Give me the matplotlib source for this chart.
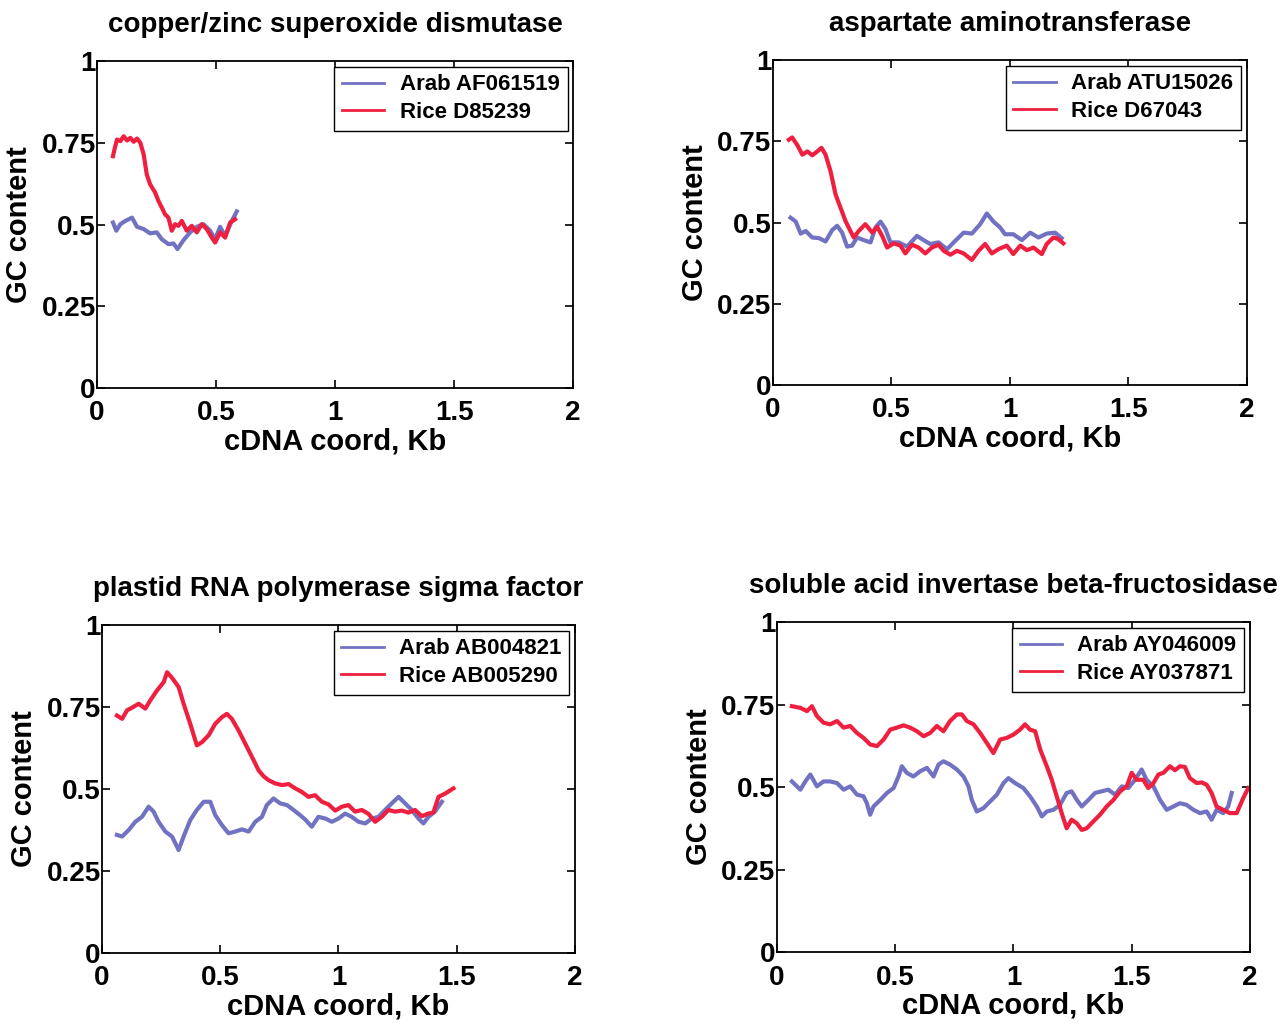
import matplotlib
matplotlib.use('Agg')
import matplotlib.pyplot as plt

plt.rcParams['font.family'] = ['Liberation Sans', 'DejaVu Sans']
plt.rcParams['font.weight'] = 'bold'
plt.rcParams['axes.linewidth'] = 1.3

arab_color = '#7272c2'
rice_color = '#ee1f3f'

# panel 1: copper/zinc superoxide dismutase
p1_arab_x = [0.067, 0.081, 0.098, 0.119, 0.147, 0.168, 0.196, 0.223, 0.251, 0.272, 0.300, 0.321,
             0.338, 0.363, 0.391, 0.419, 0.447, 0.475, 0.496, 0.517, 0.538, 0.566, 0.587]
p1_arab_y = [0.506, 0.481, 0.501, 0.511, 0.521, 0.493, 0.486, 0.473, 0.476, 0.455, 0.440, 0.442,
             0.425, 0.452, 0.476, 0.493, 0.501, 0.481, 0.455, 0.493, 0.465, 0.511, 0.540]
p1_rice_x = [0.067, 0.075, 0.084, 0.098, 0.112, 0.126, 0.140, 0.154, 0.168, 0.182, 0.196, 0.209,
             0.223, 0.244, 0.258, 0.272, 0.286, 0.300, 0.314, 0.328, 0.342, 0.356, 0.377, 0.398,
             0.419, 0.440, 0.461, 0.482, 0.496, 0.517, 0.538, 0.559, 0.580]
p1_rice_y = [0.709, 0.735, 0.760, 0.755, 0.770, 0.757, 0.765, 0.753, 0.763, 0.750, 0.714, 0.653,
             0.623, 0.598, 0.572, 0.552, 0.531, 0.521, 0.481, 0.501, 0.496, 0.511, 0.481, 0.496,
             0.476, 0.501, 0.486, 0.460, 0.445, 0.476, 0.460, 0.506, 0.516]

# panel 2: aspartate aminotransferase
p2_arab_x = [0.074, 0.096, 0.117, 0.138, 0.166, 0.194, 0.222, 0.250, 0.271, 0.292, 0.313, 0.334,
             0.355, 0.383, 0.412, 0.433, 0.454, 0.475, 0.496, 0.531, 0.566, 0.608, 0.636, 0.664,
             0.699, 0.735, 0.770, 0.805, 0.840, 0.875, 0.903, 0.931, 0.959, 0.980, 1.015, 1.051,
             1.086, 1.121, 1.156, 1.191, 1.219]
p2_arab_y = [0.515, 0.503, 0.466, 0.474, 0.454, 0.452, 0.442, 0.477, 0.490, 0.469, 0.426, 0.429,
             0.454, 0.446, 0.439, 0.485, 0.503, 0.480, 0.439, 0.439, 0.426, 0.459, 0.446, 0.434,
             0.439, 0.418, 0.444, 0.469, 0.466, 0.495, 0.528, 0.503, 0.485, 0.464, 0.464, 0.446,
             0.469, 0.454, 0.466, 0.469, 0.452]
p2_rice_x = [0.067, 0.081, 0.103, 0.124, 0.145, 0.166, 0.187, 0.205, 0.222, 0.243, 0.264, 0.285,
             0.306, 0.327, 0.341, 0.362, 0.390, 0.419, 0.440, 0.461, 0.482, 0.510, 0.538, 0.559,
             0.587, 0.615, 0.643, 0.671, 0.699, 0.721, 0.749, 0.777, 0.805, 0.840, 0.868, 0.896,
             0.924, 0.952, 0.987, 1.015, 1.044, 1.072, 1.100, 1.135, 1.156, 1.184, 1.205, 1.226]
p2_rice_y = [0.755, 0.762, 0.738, 0.709, 0.719, 0.707, 0.719, 0.730, 0.709, 0.658, 0.587, 0.546,
             0.505, 0.474, 0.454, 0.474, 0.495, 0.469, 0.487, 0.459, 0.423, 0.436, 0.429, 0.405,
             0.432, 0.423, 0.405, 0.423, 0.432, 0.413, 0.401, 0.413, 0.405, 0.385, 0.413, 0.434,
             0.405, 0.418, 0.429, 0.403, 0.429, 0.415, 0.423, 0.403, 0.434, 0.454, 0.449, 0.436]

# panel 3: plastid RNA polymerase sigma factor
p3_arab_x = [0.063, 0.085, 0.113, 0.141, 0.169, 0.197, 0.218, 0.239, 0.268, 0.296, 0.324, 0.345,
             0.373, 0.401, 0.430, 0.458, 0.479, 0.507, 0.535, 0.563, 0.592, 0.620, 0.648, 0.676,
             0.697, 0.725, 0.754, 0.782, 0.810, 0.838, 0.859, 0.887, 0.915, 0.944, 0.972, 1.000,
             1.028, 1.056, 1.085, 1.113, 1.141, 1.169, 1.197, 1.225, 1.254, 1.282, 1.310, 1.338,
             1.359, 1.380, 1.408, 1.437]
p3_arab_y = [0.360, 0.355, 0.375, 0.400, 0.415, 0.446, 0.431, 0.400, 0.370, 0.355, 0.314, 0.355,
             0.405, 0.436, 0.461, 0.461, 0.420, 0.390, 0.365, 0.370, 0.377, 0.370, 0.400, 0.415,
             0.451, 0.471, 0.456, 0.451, 0.436, 0.420, 0.407, 0.385, 0.415, 0.410, 0.400, 0.410,
             0.425, 0.415, 0.400, 0.395, 0.410, 0.415, 0.436, 0.456, 0.476, 0.456, 0.436, 0.410,
             0.395, 0.415, 0.431, 0.461]
p3_rice_x = [0.063, 0.085, 0.106, 0.127, 0.155, 0.183, 0.204, 0.232, 0.261, 0.275, 0.296, 0.324,
             0.345, 0.373, 0.401, 0.423, 0.451, 0.479, 0.507, 0.528, 0.549, 0.577, 0.606, 0.627,
             0.641, 0.662, 0.683, 0.704, 0.732, 0.761, 0.789, 0.817, 0.845, 0.873, 0.901, 0.930,
             0.958, 0.986, 1.014, 1.042, 1.070, 1.099, 1.127, 1.155, 1.183, 1.211, 1.239, 1.268,
             1.296, 1.324, 1.352, 1.380, 1.401, 1.423, 1.451, 1.486]
p3_rice_y = [0.724, 0.714, 0.740, 0.748, 0.760, 0.745, 0.770, 0.800, 0.826, 0.856, 0.839, 0.811,
             0.760, 0.699, 0.633, 0.643, 0.664, 0.699, 0.719, 0.729, 0.714, 0.679, 0.638, 0.608,
             0.588, 0.557, 0.539, 0.527, 0.517, 0.512, 0.515, 0.502, 0.491, 0.476, 0.481, 0.461,
             0.453, 0.434, 0.446, 0.451, 0.431, 0.436, 0.424, 0.400, 0.415, 0.436, 0.431, 0.434,
             0.428, 0.436, 0.417, 0.425, 0.428, 0.476, 0.486, 0.502]

# panel 4: soluble acid invertase beta-fructosidase
p4_arab_x = [0.063, 0.099, 0.120, 0.141, 0.169, 0.197, 0.225, 0.254, 0.282, 0.310, 0.338, 0.366,
             0.380, 0.394, 0.408, 0.437, 0.465, 0.493, 0.514, 0.528, 0.549, 0.577, 0.606, 0.634,
             0.662, 0.683, 0.704, 0.732, 0.761, 0.789, 0.810, 0.824, 0.845, 0.873, 0.901, 0.930,
             0.958, 0.979, 1.007, 1.042, 1.070, 1.099, 1.120, 1.141, 1.169, 1.197, 1.225, 1.246,
             1.268, 1.289, 1.317, 1.345, 1.373, 1.401, 1.430, 1.458, 1.486, 1.514, 1.542, 1.563,
             1.592, 1.620, 1.648, 1.676, 1.704, 1.732, 1.761, 1.789, 1.817, 1.838, 1.859, 1.887,
             1.908, 1.923]
p4_arab_y = [0.517, 0.492, 0.517, 0.538, 0.502, 0.517, 0.517, 0.512, 0.492, 0.502, 0.477, 0.472,
             0.451, 0.416, 0.441, 0.461, 0.482, 0.497, 0.532, 0.563, 0.543, 0.532, 0.548, 0.558,
             0.532, 0.568, 0.578, 0.568, 0.553, 0.532, 0.502, 0.461, 0.426, 0.436, 0.456, 0.477,
             0.512, 0.527, 0.512, 0.497, 0.472, 0.441, 0.411, 0.426, 0.431, 0.446, 0.482, 0.487,
             0.461, 0.441, 0.461, 0.482, 0.487, 0.492, 0.477, 0.502, 0.497, 0.522, 0.553, 0.522,
             0.502, 0.461, 0.431, 0.441, 0.451, 0.446, 0.431, 0.421, 0.426, 0.401, 0.431, 0.421,
             0.441, 0.482]
p4_rice_x = [0.063, 0.099, 0.127, 0.148, 0.169, 0.197, 0.225, 0.254, 0.282, 0.310, 0.338, 0.366,
             0.394, 0.423, 0.451, 0.479, 0.507, 0.535, 0.563, 0.592, 0.620, 0.648, 0.676, 0.704,
             0.732, 0.761, 0.782, 0.803, 0.831, 0.859, 0.887, 0.915, 0.944, 0.972, 1.000, 1.028,
             1.049, 1.070, 1.092, 1.113, 1.141, 1.162, 1.183, 1.204, 1.225, 1.246, 1.268, 1.289,
             1.310, 1.338, 1.366, 1.394, 1.423, 1.451, 1.479, 1.500, 1.521, 1.549, 1.570, 1.592,
             1.613, 1.634, 1.662, 1.683, 1.704, 1.725, 1.746, 1.775, 1.796, 1.817, 1.838, 1.859,
             1.887, 1.915, 1.944, 1.972, 1.993]
p4_rice_y = [0.745, 0.740, 0.730, 0.745, 0.715, 0.695, 0.690, 0.700, 0.680, 0.685, 0.664, 0.649,
             0.629, 0.624, 0.644, 0.674, 0.680, 0.687, 0.680, 0.669, 0.654, 0.664, 0.685, 0.669,
             0.700, 0.720, 0.720, 0.700, 0.690, 0.664, 0.634, 0.603, 0.644, 0.649, 0.659, 0.674,
             0.690, 0.674, 0.669, 0.614, 0.563, 0.522, 0.472, 0.421, 0.375, 0.401, 0.390, 0.370,
             0.375, 0.396, 0.416, 0.441, 0.461, 0.487, 0.502, 0.543, 0.522, 0.522, 0.497, 0.512,
             0.538, 0.543, 0.563, 0.551, 0.563, 0.561, 0.527, 0.512, 0.514, 0.507, 0.482, 0.441,
             0.431, 0.421, 0.421, 0.467, 0.497]

titles = ['copper/zinc superoxide dismutase', 'aspartate aminotransferase',
          'plastid RNA polymerase sigma factor', 'soluble acid invertase beta-fructosidase']
arab_labels = ['Arab AF061519', 'Arab ATU15026', 'Arab AB004821', 'Arab AY046009']
rice_labels = ['Rice D85239', 'Rice D67043', 'Rice AB005290', 'Rice AY037871']

arab_x = [p1_arab_x, p2_arab_x, p3_arab_x, p4_arab_x]
arab_y = [p1_arab_y, p2_arab_y, p3_arab_y, p4_arab_y]
rice_x = [p1_rice_x, p2_rice_x, p3_rice_x, p4_rice_x]
rice_y = [p1_rice_y, p2_rice_y, p3_rice_y, p4_rice_y]

xticks = [0, 0.5, 1, 1.5, 2]
xtick_labels = ['0', '0.5', '1', '1.5', '2']
yticks = [0, 0.25, 0.5, 0.75, 1]
ytick_labels = ['0', '0.25', '0.5', '0.75', '1']

fig = plt.figure(figsize=(12.8, 10.28), dpi=100)

# axes rectangles [left, bottom, width, height] in figure fractions
rects = [[0.0758, 0.6226, 0.372, 0.318],
         [0.6039, 0.6255, 0.370, 0.316],
         [0.0797, 0.0730, 0.3695, 0.319],
         [0.6070, 0.0739, 0.3695, 0.321]]

for i in range(4):
    ax = fig.add_axes(rects[i])
    ax.plot(arab_x[i], arab_y[i], color=arab_color, lw=3.0, label=arab_labels[i])
    ax.plot(rice_x[i], rice_y[i], color=rice_color, lw=3.0, label=rice_labels[i])
    ax.set_xlim(0, 2)
    ax.set_ylim(0, 1)
    ax.set_xticks(xticks)
    ax.set_xticklabels(xtick_labels)
    ax.set_yticks(yticks)
    ax.set_yticklabels(ytick_labels)
    ax.tick_params(direction='in', top=True, right=True, length=6, width=1.2,
                   labelsize=20)
    ax.tick_params(axis='x', pad=9)
    ax.tick_params(axis='y', pad=1)
    ax.set_title(titles[i], fontsize=20, fontweight='bold', pad=21)
    ax.set_xlabel('cDNA coord, Kb', fontsize=21, fontweight='bold', labelpad=1)
    ax.set_ylabel('GC content', fontsize=21, fontweight='bold', labelpad=6)
    leg = ax.legend(loc='upper right', fontsize=16, frameon=True, fancybox=False,
                    edgecolor='black', framealpha=1, borderaxespad=0.25,
                    handlelength=1.9, handletextpad=0.7, borderpad=0.35,
                    labelspacing=0.3)
    leg.get_frame().set_linewidth(1.0)
    for line in leg.get_lines():
        line.set_linewidth(2.0)

fig.savefig('out.png', dpi=100)
